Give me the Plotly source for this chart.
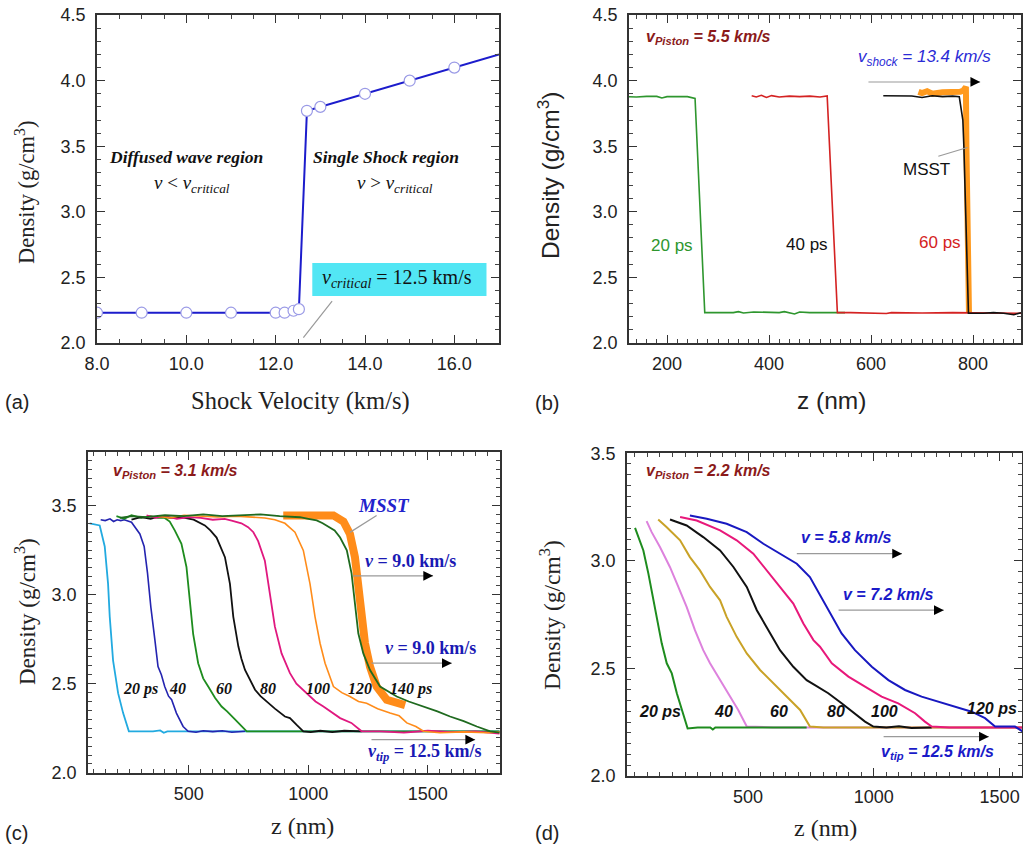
import plotly.graph_objects as go

W, H = 1023, 851

# ---------------- Panel (a) data ----------------
a_vel = [8, 9, 10, 11, 12, 12.2, 12.4, 12.52, 12.7, 13, 14, 15, 16, 17]
a_rho = [2.23, 2.23, 2.23, 2.23, 2.23, 2.23, 2.245, 2.257, 3.77, 3.80, 3.90, 4.00, 4.10, 4.20]

# ---------------- Panel (b) data ----------------
b20_z = [125, 140, 160, 180, 190, 200, 220, 240, 255, 274, 300, 330, 340, 350, 370, 400, 420, 430, 440, 450, 460, 480, 520, 549]
b20_d = [3.877, 3.875, 3.880, 3.880, 3.868, 3.878, 3.878, 3.878, 3.865, 2.231, 2.231, 2.231, 2.238, 2.228, 2.236, 2.231, 2.231, 2.238, 2.228, 2.220, 2.235, 2.231, 2.231, 2.231]
b40_z = [366, 375, 385, 395, 405, 420, 440, 460, 480, 500, 514, 534, 560, 600, 630, 640, 700, 760, 830, 894]
b40_d = [3.885, 3.876, 3.888, 3.872, 3.886, 3.876, 3.882, 3.878, 3.882, 3.876, 3.883, 2.231, 2.231, 2.228, 2.224, 2.231, 2.228, 2.231, 2.226, 2.226]
b60_z = [624, 650, 680, 700, 720, 740, 760, 773, 780, 782, 786, 791, 820, 840, 860, 880, 894]
b60_d = [3.885, 3.885, 3.883, 3.872, 3.885, 3.878, 3.882, 3.877, 3.70, 3.50, 2.886, 2.226, 2.226, 2.231, 2.226, 2.215, 2.230]
bm_z = [693, 700, 710, 720, 740, 760, 775, 781, 786, 787, 789, 792]
bm_d = [3.915, 3.905, 3.920, 3.900, 3.912, 3.910, 3.915, 3.925, 3.953, 3.50, 2.80, 2.23]

# ---------------- Panel (c) data ----------------
c20_z = [85, 127, 148, 162, 169, 183, 204, 225, 249, 300, 350, 380, 395, 410, 500, 600, 700, 800, 900, 1000, 1100, 1200, 1300, 1400, 1500, 1600, 1700, 1800]
c20_d = [3.40, 3.388, 3.27, 3.06, 2.875, 2.63, 2.447, 2.335, 2.233, 2.233, 2.233, 2.238, 2.225, 2.233, 2.233, 2.233, 2.233, 2.233, 2.233, 2.233, 2.233, 2.233, 2.233, 2.233, 2.233, 2.233, 2.233, 2.233]
c40_z = [131, 150, 170, 185, 200, 215, 230, 260, 295, 313, 327, 341, 358, 371, 385, 399, 415, 428, 448, 476, 497, 530, 560, 600, 640, 680, 735]
c40_d = [3.42, 3.415, 3.425, 3.41, 3.42, 3.415, 3.42, 3.406, 3.34, 3.27, 3.12, 2.93, 2.745, 2.596, 2.55, 2.484, 2.43, 2.41, 2.335, 2.26, 2.233, 2.228, 2.236, 2.231, 2.236, 2.228, 2.233]
c60_z = [197, 230, 260, 300, 340, 370, 399, 420, 441, 469, 490, 504, 518, 539, 560, 581, 610, 637, 660, 693, 720, 742, 900, 1100, 1300, 1500, 1700, 1800]
c60_d = [3.44, 3.425, 3.445, 3.43, 3.44, 3.43, 3.43, 3.41, 3.36, 3.285, 3.155, 2.97, 2.78, 2.615, 2.53, 2.484, 2.42, 2.372, 2.345, 2.30, 2.26, 2.233, 2.233, 2.233, 2.233, 2.233, 2.233, 2.233]
c80_z = [260, 300, 340, 380, 420, 460, 483, 520, 567, 590, 616, 651, 672, 686, 707, 720, 735, 755, 777, 800, 832, 860, 902, 923, 950, 979, 1010, 1050, 1100, 1150, 1223]
c80_d = [3.42, 3.435, 3.425, 3.44, 3.43, 3.435, 3.43, 3.42, 3.388, 3.36, 3.32, 3.21, 3.06, 2.875, 2.71, 2.64, 2.577, 2.52, 2.466, 2.43, 2.39, 2.36, 2.316, 2.307, 2.27, 2.233, 2.228, 2.236, 2.228, 2.236, 2.233]
c100_z = [323, 360, 400, 450, 500, 550, 600, 650, 679, 720, 748, 770, 790, 818, 839, 860, 888, 923, 950, 993, 1030, 1063, 1100, 1133, 1180, 1223, 1300, 1400, 1500, 1600, 1700, 1800]
c100_d = [3.444, 3.43, 3.44, 3.425, 3.435, 3.43, 3.42, 3.425, 3.415, 3.40, 3.378, 3.35, 3.30, 3.19, 3.006, 2.82, 2.67, 2.559, 2.50, 2.447, 2.40, 2.372, 2.34, 2.307, 2.28, 2.233, 2.233, 2.226, 2.236, 2.228, 2.233, 2.22]
c120_z = [370, 420, 480, 550, 620, 700, 760, 818, 860, 902, 944, 979, 1007, 1028, 1049, 1070, 1105, 1140, 1174, 1210, 1244, 1290, 1342, 1380, 1412, 1450, 1482, 1550, 1650, 1750, 1800]
c120_d = [3.44, 3.43, 3.445, 3.44, 3.435, 3.44, 3.435, 3.43, 3.42, 3.40, 3.35, 3.248, 3.06, 2.875, 2.727, 2.615, 2.484, 2.45, 2.428, 2.40, 2.39, 2.36, 2.335, 2.32, 2.28, 2.26, 2.233, 2.225, 2.23, 2.225, 2.23]
c140_z = [211, 260, 320, 400, 480, 560, 640, 720, 800, 880, 965, 1000, 1035, 1060, 1091, 1110, 1133, 1161, 1181, 1195, 1209, 1230, 1258, 1300, 1370, 1420, 1482, 1540, 1593, 1650, 1705, 1761, 1800]
c140_d = [3.43, 3.44, 3.435, 3.445, 3.44, 3.45, 3.44, 3.445, 3.45, 3.44, 3.434, 3.425, 3.416, 3.40, 3.378, 3.36, 3.32, 3.248, 3.118, 2.93, 2.783, 2.67, 2.577, 2.484, 2.428, 2.40, 2.372, 2.345, 2.316, 2.29, 2.26, 2.233, 2.225]
cm_z = [895, 950, 1000, 1050, 1105, 1147, 1174, 1195, 1209, 1223, 1237, 1258, 1286, 1328, 1384, 1405]
cm_d = [3.444, 3.445, 3.45, 3.448, 3.444, 3.41, 3.34, 3.21, 3.06, 2.875, 2.727, 2.596, 2.484, 2.41, 2.382, 2.38]

# ---------------- Panel (d) data ----------------
d20_z = [51, 84, 104, 124, 137, 157, 177, 197, 217, 236, 256, 260, 300, 350, 360, 370, 450, 550, 650, 733]
d20_d = [3.153, 3.048, 2.94, 2.816, 2.724, 2.616, 2.523, 2.476, 2.384, 2.306, 2.229, 2.22, 2.225, 2.225, 2.215, 2.225, 2.225, 2.225, 2.225, 2.225]
d40_z = [97, 117, 150, 190, 223, 256, 289, 322, 349, 389, 428, 461, 495, 600, 800, 1000, 1200, 1400, 1600]
d40_d = [3.184, 3.133, 3.064, 2.97, 2.878, 2.785, 2.677, 2.584, 2.523, 2.445, 2.368, 2.306, 2.229, 2.225, 2.225, 2.225, 2.225, 2.225, 2.225]
d60_z = [143, 177, 230, 269, 309, 349, 389, 415, 455, 495, 548, 601, 654, 707, 746, 800, 900, 1000, 1100, 1200, 1300, 1400, 1500, 1600]
d60_d = [3.192, 3.156, 3.095, 3.017, 2.955, 2.878, 2.816, 2.739, 2.646, 2.569, 2.492, 2.43, 2.368, 2.306, 2.229, 2.225, 2.225, 2.225, 2.225, 2.225, 2.225, 2.225, 2.225, 2.225]
d80_z = [190, 256, 322, 389, 442, 495, 535, 574, 627, 680, 733, 766, 819, 872, 925, 965, 998, 1050, 1100, 1150, 1230]
d80_d = [3.192, 3.164, 3.11, 3.048, 2.971, 2.878, 2.77, 2.693, 2.584, 2.507, 2.445, 2.422, 2.384, 2.337, 2.291, 2.252, 2.229, 2.225, 2.23, 2.222, 2.225]
d100_z = [230, 296, 389, 455, 521, 574, 627, 680, 720, 760, 786, 833, 899, 965, 1031, 1097, 1164, 1203, 1230, 1300, 1400, 1500, 1600]
d100_d = [3.203, 3.187, 3.141, 3.095, 3.033, 2.955, 2.878, 2.801, 2.708, 2.631, 2.60, 2.523, 2.461, 2.414, 2.368, 2.337, 2.291, 2.252, 2.229, 2.225, 2.225, 2.225, 2.225]
d120_z = [269, 336, 415, 495, 561, 627, 694, 746, 786, 821, 872, 925, 992, 1058, 1124, 1190, 1256, 1323, 1389, 1442, 1482, 1561, 1600]
d120_d = [3.21, 3.195, 3.172, 3.133, 3.079, 3.033, 2.986, 2.924, 2.84, 2.77, 2.662, 2.584, 2.507, 2.445, 2.399, 2.368, 2.345, 2.321, 2.298, 2.268, 2.229, 2.229, 2.20]

SANS = "Liberation Sans"
SERIF = "Liberation Serif"
DARKRED = "#8b1a1a"

fig = go.Figure()


def line(x, y, ax, color, width):
    fig.add_trace(go.Scatter(x=x, y=y, mode="lines", line=dict(color=color, width=width),
                             xaxis=ax[0], yaxis=ax[1], showlegend=False, hoverinfo="skip"))


A = ("x", "y"); B = ("x2", "y2"); C = ("x3", "y3"); D = ("x4", "y4")

# (a)
line(a_vel, a_rho, A, "#1c1ccc", 2)
fig.add_trace(go.Scatter(x=a_vel[:-1], y=a_rho[:-1], mode="markers",
                         marker=dict(size=11, color="white", line=dict(color="#9a9ae6", width=1.2)),
                         xaxis="x", yaxis="y", showlegend=False, hoverinfo="skip"))
# (b)
line(bm_z, bm_d, B, "#ff9a1e", 6)
line(b20_z, b20_d, B, "#2e962e", 1.6)
line(b40_z, b40_d, B, "#d42222", 1.6)
line(b60_z, b60_d, B, "#111111", 1.6)
# (c)
line(cm_z, cm_d, C, "#ff8c1a", 8)
line(c20_z, c20_d, C, "#22aae0", 1.8)
line(c40_z, c40_d, C, "#2424b0", 1.6)
line(c60_z, c60_d, C, "#1e8c1e", 1.8)
line(c80_z, c80_d, C, "#111111", 1.8)
line(c100_z, c100_d, C, "#e0187f", 1.8)
line(c120_z, c120_d, C, "#ff8c1a", 1.6)
line(c140_z, c140_d, C, "#1f6a1f", 1.8)
# (d)
line(d40_z, d40_d, D, "#dd82dd", 2)
line(d60_z, d60_d, D, "#c9a227", 2)
line(d20_z, d20_d, D, "#1e8c1e", 2)
line(d80_z, d80_d, D, "#111111", 2)
line(d100_z, d100_d, D, "#e8187a", 2)
line(d120_z, d120_d, D, "#1818c0", 2)


def dom_x(p0, p1):
    return [p0 / W, p1 / W]


def dom_y(top, bottom):
    return [1 - bottom / H, 1 - top / H]


def axis(domain, rng, dtick, minor, anchor, fmt=None, tick0=None, standoff=4):
    d = dict(domain=domain, range=rng, dtick=dtick, anchor=anchor, automargin=False,
             showline=True, linecolor="#333", linewidth=1.5, mirror="ticks",
             ticks="inside", ticklen=8, tickwidth=1.3, tickcolor="#333",
             minor=dict(dtick=minor, ticks="inside", ticklen=4, tickwidth=1, tickcolor="#444"),
             showgrid=False, zeroline=False, ticklabelstandoff=standoff,
             tickfont=dict(family=SANS, size=18, color="#222"))
    if fmt:
        d["tickformat"] = fmt
    if tick0 is not None:
        d["tick0"] = tick0
        d["minor"]["tick0"] = tick0
    return d


fig.update_layout(
    width=W, height=H, margin=dict(l=0, r=0, t=0, b=0, autoexpand=False),
    paper_bgcolor="white", plot_bgcolor="white", showlegend=False,
    xaxis=axis(dom_x(97, 499), [8, 17], 2, 0.5, "y", ".1f", 8),
    yaxis=axis(dom_y(15, 343), [1.999, 4.501], 0.5, 0.1, "x", ".1f", 2, 6),
    xaxis2=axis(dom_x(629, 1021), [125.5, 894], 200, 20, "y2", None, 0),
    yaxis2=axis(dom_y(15, 343), [1.999, 4.501], 0.5, 0.1, "x2", ".1f", 2, 6),
    xaxis3=axis(dom_x(88, 500), [78, 1802], 500, 50, "y3", None, 0),
    yaxis3=axis(dom_y(452, 773), [1.999, 3.8], 0.5, 0.05, "x3", ".1f", 2, 6),
    xaxis4=axis(dom_x(627, 1022), [19, 1589], 500, 50, "y4", None, 0),
    yaxis4=axis(dom_y(453, 776), [1.999, 3.501], 0.5, 0.05, "x4", ".1f", 2, 6),
)

ann = []
shapes = []


def text(xr, yr, x, y, t, fam, size, color="#111", xanchor="center"):
    ann.append(dict(xref=xr, yref=yr, x=x, y=y, text=t, showarrow=False, xanchor=xanchor,
                    yanchor="middle", font=dict(family=fam, size=size, color=color)))


def arrow(xr, yr, x0, y0, x1, y1):
    ann.append(dict(xref=xr, yref=yr, axref=xr, ayref=yr, x=x1, y=y1, ax=x0, ay=y0, text="",
                    showarrow=True, arrowhead=0, arrowwidth=1.2, arrowcolor="#9a9a9a"))
    f = 0.06
    ann.append(dict(xref=xr, yref=yr, axref=xr, ayref=yr, x=x1, y=y1,
                    ax=x1 - (x1 - x0) * f, ay=y1 - (y1 - y0) * f, text="",
                    showarrow=True, arrowhead=2, arrowsize=1.5, arrowwidth=1.3, arrowcolor="black"))


def ptext(px, py, t, fam, size, angle=0, xanchor="center", color="#222"):
    ann.append(dict(xref="paper", yref="paper", x=px / W, y=1 - py / H, text=t, showarrow=False,
                    textangle=angle, xanchor=xanchor, yanchor="middle",
                    font=dict(family=fam, size=size, color=color)))


# axis titles
ptext(300, 401, "Shock Velocity (km/s)", SERIF, 24.5)
ptext(25, 193, "Density (g/cm<sup>3</sup>)", SERIF, 22.5, -90)
ptext(831, 401, "z (nm)", SANS, 24.5)
ptext(549, 176, "Density (g/cm<sup>3</sup>)", SANS, 24.5, -90)
ptext(302, 826, "z (nm)", SERIF, 24)
ptext(25, 612, "Density (g/cm<sup>3</sup>)", SERIF, 23, -90)
ptext(825, 828, "z (nm)", SERIF, 24)
ptext(550, 615, "Density (g/cm<sup>3</sup>)", SERIF, 23.5, -90)
# panel labels
ptext(3, 402, "(a)", SANS, 20, xanchor="left")
ptext(533, 403, "(b)", SANS, 20, xanchor="left")
ptext(3, 833, "(c)", SANS, 20, xanchor="left")
ptext(533, 833, "(d)", SANS, 20, xanchor="left")

# (a) annotations
text("x", "y", 10.0, 3.42, "<b><i>Diffused wave region</i></b>", SERIF, 17.5)
text("x", "y", 10.13, 3.21, "<i>v</i> &lt; <i>v</i><sub><i>critical</i></sub>", SERIF, 19)
text("x", "y", 14.46, 3.42, "<b><i>Single Shock region</i></b>", SERIF, 17.5)
text("x", "y", 14.68, 3.21, "<i>v</i> &gt; <i>v</i><sub><i>critical</i></sub>", SERIF, 19)
shapes.append(dict(type="rect", xref="x", yref="y", x0=12.82, x1=16.72, y0=2.358, y1=2.609,
                   fillcolor="#52e6f4", line=dict(width=0), layer="below"))
text("x", "y", 14.72, 2.49, "<i>v</i><sub><i>critical</i></sub> = 12.5 km/s", SERIF, 20)
arrow("x", "y", 13.29, 2.33, 12.62, 2.04)

# (b) annotations
text("x2", "y2", 155, 4.33, "<b><i>v</i></b><sub><b><i>Piston</i></b></sub><b><i> = 5.5 km/s</i></b>",
     SANS, 16, DARKRED, "left")
text("x2", "y2", 570, 4.17, "<i>v</i><sub><i>shock</i></sub><i> = 13.4 km/s</i>", SANS, 17, "#2b2bd6", "left")
arrow("x2", "y2", 592, 3.99, 814, 3.99)
text("x2", "y2", 708, 3.32, "MSST", SANS, 17)
arrow("x2", "y2", 729, 3.42, 789, 3.49)
text("x2", "y2", 210, 2.74, "20 ps", SANS, 17, "#2e962e")
text("x2", "y2", 474, 2.747, "40 ps", SANS, 17, "#111")
text("x2", "y2", 735, 2.764, "60 ps", SANS, 17, "#d42222")

# (c) annotations
text("x3", "y3", 175, 3.69, "<b><i>v</i></b><sub><b><i>Piston</i></b></sub><b><i> = 3.1 km/s</i></b>",
     SANS, 16, DARKRED, "left")
text("x3", "y3", 1315, 3.50, "<b><i>MSST</i></b>", SERIF, 19, "#2222cc")
arrow("x3", "y3", 1292, 3.449, 1174, 3.349)
text("x3", "y3", 1426, 3.187, "<b><i>v</i> = 9.0 km/s</b>", SERIF, 18, "#1a1ab4")
arrow("x3", "y3", 1182, 3.105, 1522, 3.105)
text("x3", "y3", 1510, 2.70, "<b><i>v</i> = 9.0 km/s</b>", SERIF, 18, "#1a1ab4")
arrow("x3", "y3", 1258, 2.615, 1600, 2.615)
text("x3", "y3", 1487, 2.115, "<b><i>v</i><sub><i>tip</i></sub> = 12.5 km/s</b>", SERIF, 18, "#1a1ab4")
arrow("x3", "y3", 1258, 2.186, 1698, 2.186)
for zz, t in [(297, "20 ps"), (452, "40"), (649, "60"), (833, "80"), (1042, "100"), (1218, "120"), (1430, "140 ps")]:
    text("x3", "y3", zz, 2.471, "<b><i>%s</i></b>" % t, SERIF, 16, "#111")

# (d) annotations
text("x4", "y4", 88, 3.415, "<b><i>v</i></b><sub><b><i>Piston</i></b></sub><b><i> = 2.2 km/s</i></b>",
     SANS, 16, DARKRED, "left")
text("x4", "y4", 890, 3.108, "<b><i>v = 5.8 km/s</i></b>", SANS, 16, "#1a1ac8")
arrow("x4", "y4", 688, 3.033, 1112, 3.033)
text("x4", "y4", 1056, 2.844, "<b><i>v = 7.2 km/s</i></b>", SANS, 16, "#1a1ac8")
arrow("x4", "y4", 854, 2.77, 1278, 2.77)
text("x4", "y4", 1255, 2.11, "<b><i>v</i></b><sub><b><i>tip</i></b></sub><b><i> = 12.5 km/s</i></b>", SANS, 16, "#1a1ac8")
arrow("x4", "y4", 1033, 2.182, 1457, 2.182)
for zz, t in [(150, "20 ps"), (403, "40"), (625, "60"), (850, "80"), (1041, "100")]:
    text("x4", "y4", zz, 2.298, "<b><i>%s</i></b>" % t, SANS, 16, "#111")
text("x4", "y4", 1470, 2.315, "<b><i>120 ps</i></b>", SANS, 16, "#111")

fig.update_layout(annotations=ann, shapes=shapes)
fig.write_html("out.html", config={"displayModeBar": False},
               post_script="document.body.style.margin='0px';document.body.style.overflow='hidden';")
